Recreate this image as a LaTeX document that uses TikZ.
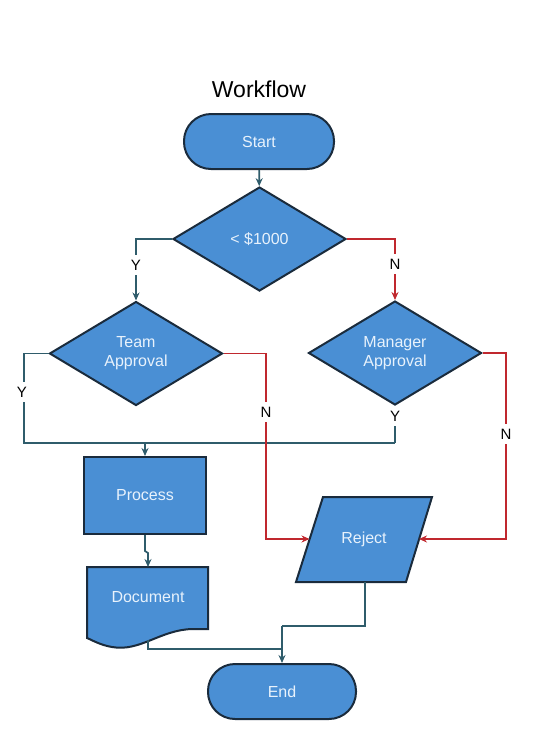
\documentclass[tikz,border=0pt]{standalone}
\usepackage{fontspec}
\setmainfont{Liberation Sans}
\usetikzlibrary{shapes.geometric,arrows.meta}
\definecolor{boxfill}{HTML}{4A8FD4}
\definecolor{boxline}{HTML}{1A2B3C}
\definecolor{connc}{HTML}{2F5C6B}
\definecolor{noc}{HTML}{C0282E}
\definecolor{boxtext}{HTML}{E8F2FC}
\tikzset{
  box/.style={draw=boxline, fill=boxfill, line width=2pt, text=boxtext, font=\fontsize{16}{19}\selectfont, align=center},
  term/.style={box, rectangle, rounded corners=27pt, minimum width=150pt, minimum height=55pt},
  proc/.style={box, rectangle, minimum width=122pt, minimum height=77pt},
  decis/.style={box, diamond, inner sep=0pt, minimum width=173pt, minimum height=104pt},
  boxlabel/.style={text=boxtext, font=\fontsize{16}{19}\selectfont, align=center},
  conn/.style={draw=connc, line width=1.7pt},
  noconn/.style={draw=noc, line width=1.7pt},
  tip/.style={-{Stealth[length=8pt,width=7pt]}},
  lbl/.style={fill=white, inner xsep=1pt, inner ysep=5pt, font=\fontsize{15}{17}\selectfont, text=black},
  titlestyle/.style={font=\fontsize{23}{26}\selectfont, text=black}
}
\begin{document}
\begin{tikzpicture}[x=1pt, y=-1pt]
\useasboundingbox (0,0) rectangle (540,740);

\node[titlestyle] (title) at (259,89) {Workflow};

\node[term] (start) at (259,141.5) {Start};
\node[decis] (d1) at (259.5,239) {< \$1000};
\node[decis] (team) at (136,353.5) {Team\\Approval};
\node[decis] (mgr) at (395,353) {Manager\\Approval};
\node[proc] (process) at (145,495.5) {Process};

% Document shape
\draw[draw=boxline, fill=boxfill, line width=2pt]
  (87,567) -- (208,567) -- (208,629) -- (192,629) .. controls (160,630) and (140,652) .. (112,647) .. controls (100,645) and (92,640) .. (87,638) -- cycle;
\node[boxlabel] (doc) at (148,597) {Document};
\coordinate (doct) at (148,567);
\coordinate (docb) at (148,640);

% Reject parallelogram
\draw[draw=boxline, fill=boxfill, line width=2pt]
  (323,497) -- (432,497) -- (406,582) -- (296,582) -- cycle;
\node[boxlabel] (reject) at (364,539) {Reject};
\coordinate (rejL) at (309.5,539);
\coordinate (rejR) at (419,539);
\coordinate (rejB) at (365,582);

\node[term, minimum width=148pt] (end) at (282,691.5) {End};

% connectors
\draw[conn, tip] (start) -- (d1);

\draw[conn, tip] (d1.west) -| (team.north);
\node[lbl] (y1) at (136,265) {Y};

\draw[noconn, tip] (d1.east) -| (mgr.north);
\node[lbl] (n1) at (395,264) {N};

\coordinate (yl) at (24,443);
\coordinate (ybus) at (mgr.south |- yl);
\draw[conn] (team.west) -| (yl) -- (ybus);
\draw[conn] (mgr.south) -- (ybus);
\coordinate (pin) at (process.north |- yl);
\draw[conn, tip] (pin) -- (process.north);
\node[lbl] (y2) at (22,392) {Y};
\node[lbl] (y3) at (395,416) {Y};

\coordinate (tn) at (266,539);
\draw[noconn, tip] (team.east) -| (tn) -- (rejL);
\node[lbl] (n2) at (266,412) {N};

\coordinate (mn) at (506,539);
\draw[noconn, tip] (mgr.east) -| (mn) -- (rejR);
\node[lbl] (n3) at (506,434) {N};

\draw[conn, tip] (process.south) -- ++(0,16) -- ++(3,2) -- (doct);

\coordinate (rj) at (end.north |- 0,626);
\coordinate (dj) at (end.north |- 0,649);
\draw[conn] (rejB) |- (rj);
\draw[conn] (docb) |- (dj);
\draw[conn, tip] (rj) -- (end.north);
\end{tikzpicture}
\end{document}
